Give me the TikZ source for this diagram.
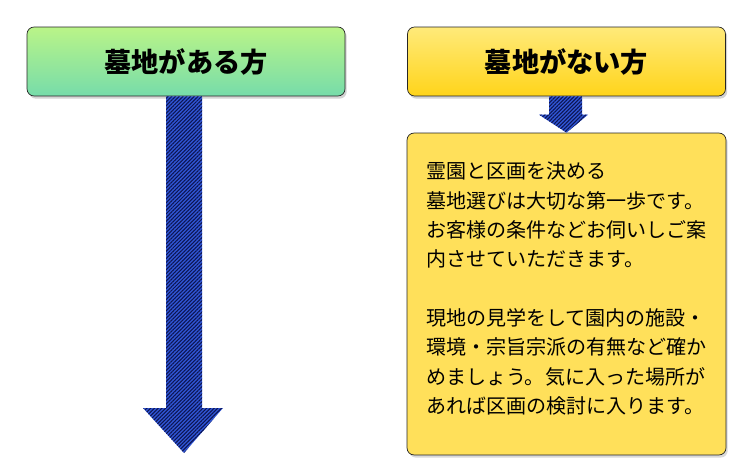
\documentclass[tikz,border=0pt]{standalone}
\usepackage{fontspec}
\newfontfamily\jpfont{Noto Sans CJK JP}
\usetikzlibrary{shadows,patterns.meta,calc}
\definecolor{greentop}{RGB}{186,244,136}
\definecolor{greenbot}{RGB}{118,220,170}
\definecolor{yellowtop}{RGB}{255,234,122}
\definecolor{yellowbot}{RGB}{255,212,26}
\definecolor{bodyfill}{RGB}{255,224,90}
\definecolor{arrowblue}{RGB}{48,86,214}
\definecolor{arrowdark}{RGB}{12,20,80}
\begin{document}
\begin{tikzpicture}[x=0.02cm,y=-0.02cm,
  header/.style={draw=black!85, rounded corners=4pt, minimum width=6.36cm, minimum height=1.38cm,
    font=\jpfont\fontsize{15.5}{18}\selectfont\bfseries,
    drop shadow={shadow xshift=1pt, shadow yshift=-1.5pt, opacity=0.35}},
  infobox/.style={draw=black!85, rounded corners=4pt, fill=bodyfill, minimum width=6.38cm, minimum height=6.44cm,
    text width=5.62cm, align=left, inner xsep=0.38cm,
    font=\jpfont\fontsize{11.4}{16.7}\selectfont,
    drop shadow={shadow xshift=1pt, shadow yshift=-1.5pt, opacity=0.3}},
  blockarrow/.style={preaction={fill=arrowblue}, pattern={Lines[angle=45,distance=1.5pt,line width=0.6pt]}, pattern color=arrowdark}]
\useasboundingbox (0,0) rectangle (750,462);

% headers
\node[header, top color=greentop, bottom color=greenbot] (withgrave) at (186,61.5) {墓地がある方};
\node[header, top color=yellowtop, bottom color=yellowbot] (nograve) at (566.5,61.5) {墓地がない方};

% explanation
\node[infobox] (choose) at (566.5,294) {霊園と区画を決める\\
墓地選びは大切な第一歩です。\\
お客様の条件などお伺いしご案\\
内させていただきます。\\[16.7pt]
現地の見学をして園内の施設・\\
環境・宗旨宗派の有無など確か\\
めましょう。気に入った場所が\\
あれば区画の検討に入ります。\rule[-0.25cm]{0pt}{0pt}};

% arrows
\coordinate (leftend) at (184,453);
\fill[blockarrow] ($(withgrave.south)+(-20,0)$) -- ($(withgrave.south)+(16,0)$) -- ($(leftend)+(18,-45)$)
  -- ($(leftend)+(39,-45)$) -- (leftend) -- ($(leftend)+(-41,-45)$) -- ($(leftend)+(-18,-45)$) -- cycle;
\fill[blockarrow] ($(nograve.south)+(-17.5,0)$) -- ($(nograve.south)+(15.5,0)$) -- ($(choose.north)+(15.5,-18)$)
  -- ($(choose.north)+(21.5,-18)$) -- (choose.north) -- ($(choose.north)+(-27.5,-18)$) -- ($(choose.north)+(-17.5,-18)$) -- cycle;
\end{tikzpicture}
\end{document}
